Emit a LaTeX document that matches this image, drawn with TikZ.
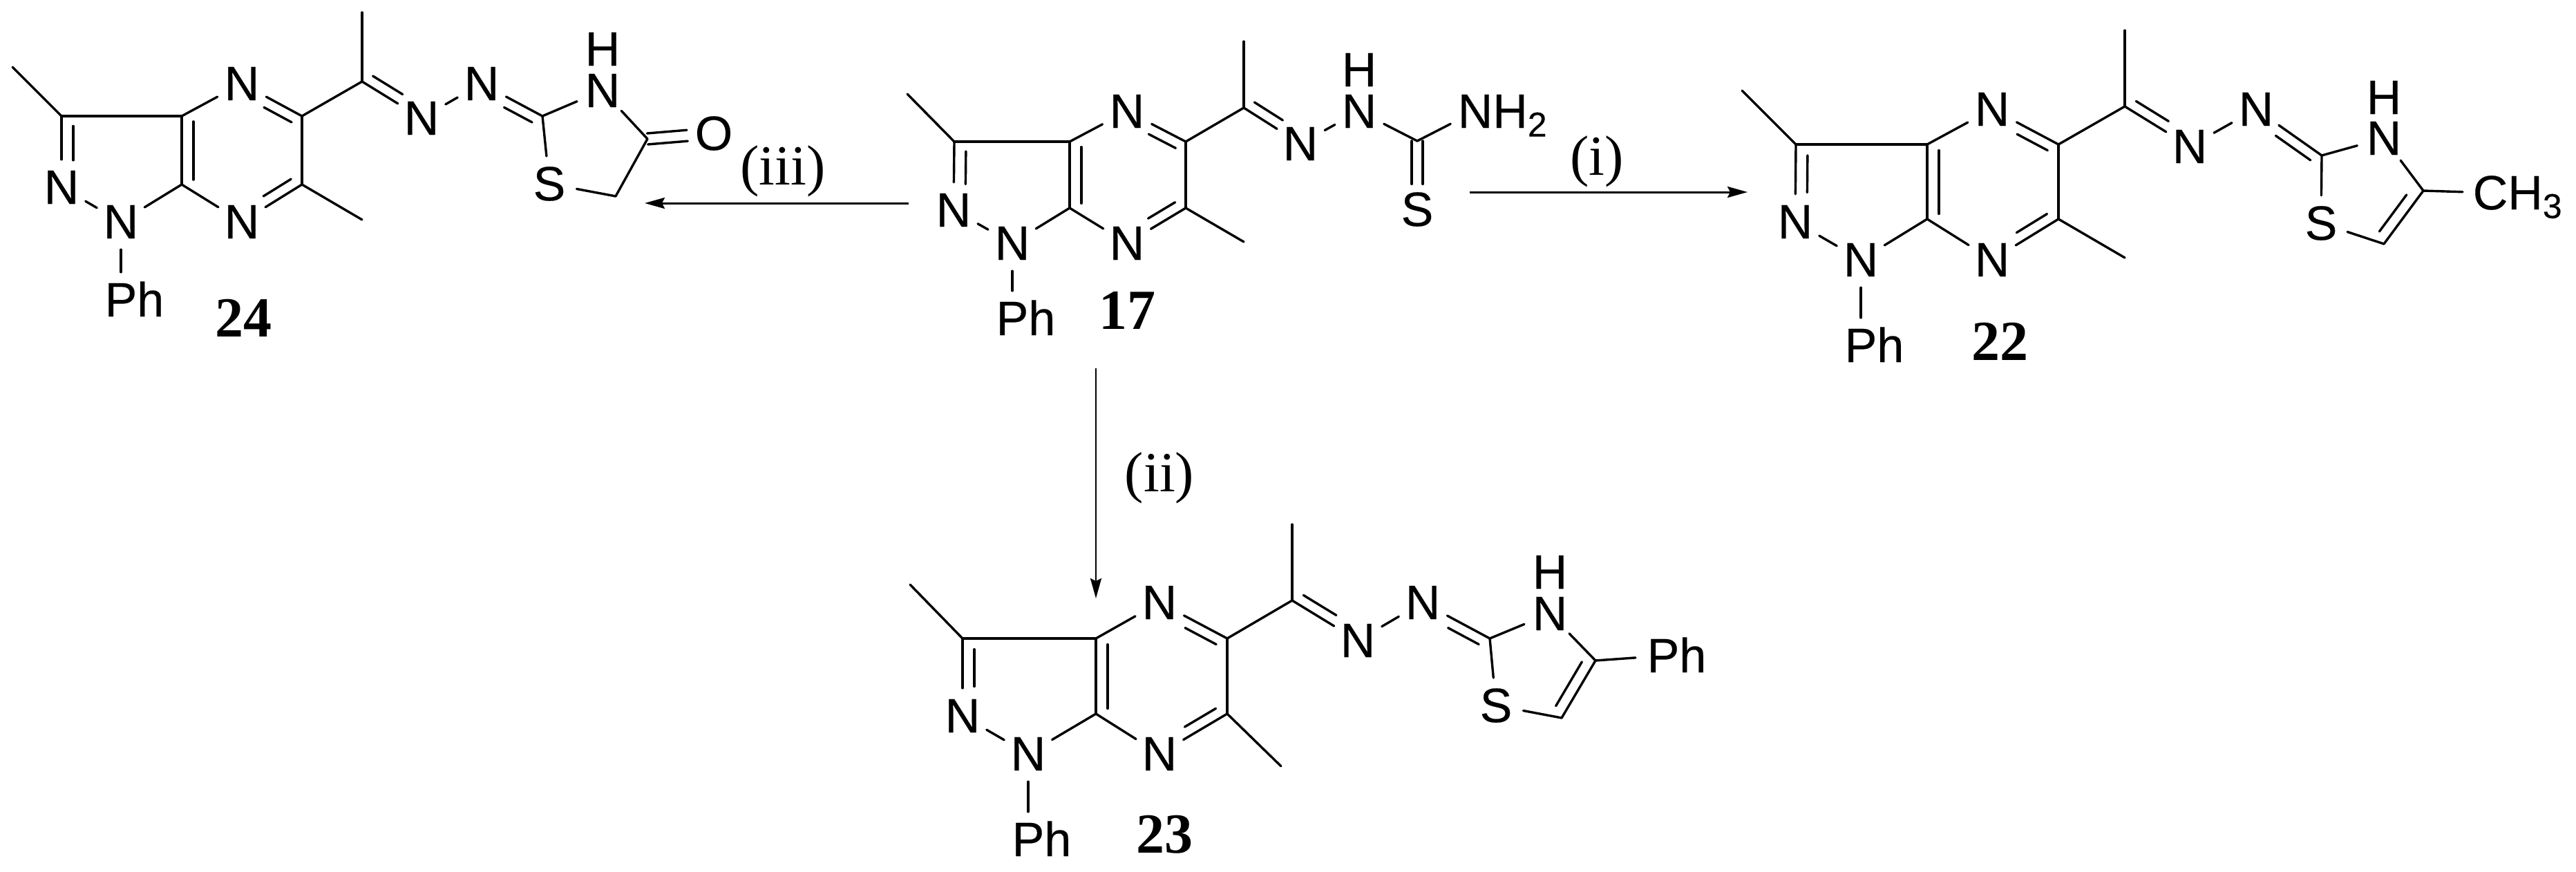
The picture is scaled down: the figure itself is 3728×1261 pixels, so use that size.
\documentclass[tikz,border=0pt]{standalone}
\usepackage{fontspec}
\setmainfont{Liberation Sans}
\newfontfamily\atomfont[FakeBold=0.25]{Liberation Sans}
\newfontfamily\numfont{Liberation Serif}
\usetikzlibrary{calc,arrows.meta}
\tikzset{
  x=1pt,y=-1pt,
  bond/.style={line width=3.4pt,line cap=round},
  atom/.style={circle,inner sep=0pt,minimum size=80pt,font=\atomfont\fontsize{70}{80}\selectfont},
  cpd/.style={inner sep=0pt,font=\numfont\bfseries\fontsize{82}{90}\selectfont},
  cond/.style={inner sep=0pt,font=\numfont\fontsize{82}{90}\selectfont},
  rxn/.style={line width=3pt,-{Stealth[length=29pt,width=16pt,inset=4pt]}},
}
\newcommand{\subs}[1]{\raisebox{-12.5pt}{\fontsize{50}{50}\selectfont #1}}
% a, b, angle, frac1, frac2, offset
\newcommand{\dbl}[6]{\draw[bond] ($(#1)!#4!(#2)!#6!#3:(#2)$) -- ($(#1)!#5!(#2)!#6!#3:(#2)$);}
% common skeleton; #1 prefix, #2 width of the C3-C3a bond
\newcommand{\core}[2]{%
  \draw[bond] (#1me)--(#1c3);
  \draw[bond] (#1c3)--(#1n2);
  \draw[bond] (#1n2)--(#1n1);
  \draw[bond] (#1n1)--(#1c7a);
  \draw[bond] (#1n1)--(#1p);
  \draw[bond,line width=#2] (#1c3)--(#1c3a);
  \draw[bond] (#1c3a)--(#1c7a);
  \draw[bond] (#1c3a)--(#1n4);
  \draw[bond] (#1n4)--(#1c5);
  \draw[bond] (#1c5)--(#1c6);
  \draw[bond] (#1c6)--(#1n7);
  \draw[bond] (#1n7)--(#1c7a);
  \draw[bond] (#1c6)--(#1me6);
  \draw[bond] (#1c5)--(#1cx);
  \draw[bond] (#1cx)--(#1mex);
  \draw[bond] (#1cx)--(#1nx);
  \draw[bond] (#1nx)--(#1nz);
  \dbl{#1c3}{#1n2}{90}{.14}{.62}{17pt}
  \dbl{#1c3a}{#1c7a}{90}{.08}{.93}{17pt}
  \dbl{#1c5}{#1n4}{90}{.09}{.55}{15pt}
  \dbl{#1c6}{#1n7}{-90}{.09}{.55}{15pt}
  \dbl{#1cx}{#1nx}{90}{.09}{.59}{15pt}
}
\begin{document}
\begin{tikzpicture}
\useasboundingbox (0,0) rectangle (3728,1261);
\fill[white] (0,0) rectangle (3728,1261);

% ---------- 24 ----------
\coordinate (ame) at (18,97);
\coordinate (ac3) at (89,168);
\coordinate (ac3a) at (263,168);
\coordinate (ac7a) at (263,267);
\coordinate (ac5) at (437,168);
\coordinate (ac6) at (437,267);
\coordinate (ame6) at (524,318);
\coordinate (acx) at (524,118);
\coordinate (amex) at (524,18);
\coordinate (ac2) at (785,168);
\coordinate (ac4) at (937,201);
\coordinate (ach) at (891,284);
\node[atom] (an4) at (350,121) {N};
\node[atom] (an7) at (350,321) {N};
\node[atom] (an2) at (89,271) {N};
\node[atom] (an1) at (175,321) {N};
\node[atom] (ap) at (175,434) {P\rlap{\smash{h}}};
\node[atom] (anx) at (610,171) {N};
\node[atom] (anz) at (697,121) {N};
\node[atom] (as) at (795,266) {S};
\node[atom] (anh) at (872,131) {N};
\node[atom] (ah) at (872,71) {H};
\node[atom] (ao) at (1033,193) {O};
\node[cpd] (l24) at (352,460) {24};
\core{a}{3.4pt}
\draw[bond] (ac2)--(anz);
\dbl{ac2}{anz}{90}{.09}{.55}{15pt}
\draw[bond] (ac2)--(as);
\draw[bond] (ac2)--(anh);
\draw[bond] (anh)--(ac4);
\draw[bond] (ac4)--(ach);
\draw[bond] (ach)--(as);
\dbl{ac4}{ao}{90}{0}{.6}{8pt}
\dbl{ac4}{ao}{-90}{0}{.6}{8pt}

% ---------- 17 ----------
\coordinate (bme) at (1313,136);
\coordinate (bc3) at (1381,205);
\coordinate (bc3a) at (1548,205);
\coordinate (bc7a) at (1548,301);
\coordinate (bc5) at (1716,205);
\coordinate (bc6) at (1716,301);
\coordinate (bme6) at (1800,350);
\coordinate (bcx) at (1800,156);
\coordinate (bmex) at (1800,60);
\coordinate (bcs) at (2051,204);
\node[atom] (bn4) at (1631,161) {N};
\node[atom] (bn7) at (1631,352) {N};
\node[atom] (bn2) at (1380,304) {N};
\node[atom] (bn1) at (1465,352) {N};
\node[atom] (bp) at (1465,461) {P\rlap{\smash{h}}};
\node[atom] (bnx) at (1882,208) {N};
\node[atom] (bnz) at (1967,161) {N};
\node[atom] (bh) at (1967,101) {H};
\node[atom] (bnh) at (2135,161) {N\rlap{\smash{H\subs{2}}}};
\node[atom] (bs) at (2051,303) {S};
\node[cpd] (l17) at (1631,449) {17};
\core{b}{4.5pt}
\draw[bond] (bnz)--(bcs);
\draw[bond] (bcs)--(bnh);
\dbl{bcs}{bs}{90}{0}{.63}{8pt}
\dbl{bcs}{bs}{-90}{0}{.63}{8pt}

% ---------- 22 ----------
\coordinate (cme) at (2521,131);
\coordinate (cc3) at (2599,209);
\coordinate (cc3a) at (2789,209);
\coordinate (cc7a) at (2789,317);
\coordinate (cc5) at (2979,209);
\coordinate (cc6) at (2979,317);
\coordinate (cme6) at (3075,373);
\coordinate (ccx) at (3075,154);
\coordinate (cmex) at (3075,44);
\coordinate (cc2) at (3360,225);
\coordinate (cc4) at (3507,276);
\coordinate (cch) at (3450,353);
\node[atom] (cn4) at (2883,158) {N};
\node[atom] (cn7) at (2883,376) {N};
\node[atom] (cn2) at (2598,321) {N};
\node[atom] (cn1) at (2693,376) {N};
\node[atom] (cp) at (2693,500) {P\rlap{\smash{h}}};
\node[atom] (cnx) at (3169,212) {N};
\node[atom] (cnz) at (3265,158) {N};
\node[atom] (cs) at (3359,323) {S};
\node[atom] (cnh) at (3450,200) {N};
\node[atom] (chh) at (3450,141) {H};
\node[atom] (cme4) at (3604,279) {C\rlap{\smash{H\subs{3}}}};
\node[cpd] (l22) at (2894,494) {22};
\core{c}{3.4pt}
\draw[bond] (cc2)--(cnz);
\dbl{cc2}{cnz}{90}{.08}{.61}{15pt}
\draw[bond] (cc2)--(cs);
\draw[bond] (cc2)--(cnh);
\draw[bond] (cnh)--(cc4);
\draw[bond] (cc4)--(cch);
\draw[bond] (cch)--(cs);
\draw[bond] (cc4)--(cme4);
\dbl{cc4}{cch}{-90}{.2}{.89}{16pt}

% ---------- 23 ----------
\coordinate (dme) at (1317,846);
\coordinate (dc3) at (1393,924);
\coordinate (dc3a) at (1586,924);
\coordinate (dc7a) at (1586,1033);
\coordinate (dc5) at (1776,924);
\coordinate (dc6) at (1776,1033);
\coordinate (dme6) at (1854,1109);
\coordinate (dcx) at (1870,869);
\coordinate (dmex) at (1870,759);
\coordinate (dc2) at (2156,924);
\coordinate (dc4) at (2309,956);
\coordinate (dch) at (2260,1039);
\node[atom] (dn4) at (1678,872) {N};
\node[atom] (dn7) at (1678,1091) {N};
\node[atom] (dn2) at (1393,1036) {N};
\node[atom] (dn1) at (1488,1091) {N};
\node[atom] (dp) at (1488,1215) {P\rlap{\smash{h}}};
\node[atom] (dnx) at (1965,927) {N};
\node[atom] (dnz) at (2059,872) {N};
\node[atom] (ds) at (2165,1021) {S};
\node[atom] (dnh) at (2243,888) {N};
\node[atom] (dhh) at (2243,828) {H};
\node[atom] (dph) at (2407,949) {P\rlap{\smash{h}}};
\node[cpd] (l23) at (1685,1208) {23};
\core{d}{4.5pt}
\draw[bond] (dc2)--(dnz);
\dbl{dc2}{dnz}{90}{.09}{.55}{15pt}
\draw[bond] (dc2)--(ds);
\draw[bond] (dc2)--(dnh);
\draw[bond] (dnh)--(dc4);
\draw[bond] (dc4)--(dch);
\draw[bond] (dch)--(ds);
\draw[bond] (dc4)--(dph);
\dbl{dc4}{dch}{-90}{.12}{.89}{16pt}

% ---------- arrows ----------
\coordinate (r3a) at (1315,294);
\coordinate (r3b) at (933,294);
\coordinate (r1a) at (2127,278);
\coordinate (r1b) at (2529,278);
\coordinate (r2a) at (1586,533);
\coordinate (r2b) at (1586,866);
\draw[rxn] (r3a)--(r3b);
\draw[rxn] (r1a)--(r1b);
\draw[rxn,line width=2.5pt] (r2a)--(r2b);
\node[cond] (t3) at (1133,248) {(iii)};
\node[cond] (t1) at (2311,234) {(i)};
\node[cond] (t2) at (1678,692) {(ii)};
\end{tikzpicture}
\end{document}
